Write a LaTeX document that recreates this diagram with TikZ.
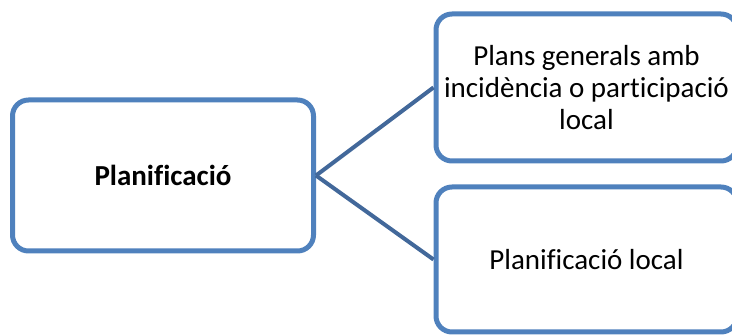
\documentclass[tikz,border=0pt]{standalone}
\usepackage{fontspec}
\setmainfont[Ligatures=CommonOff]{Carlito}
\usepackage{tikz}

\definecolor{boxblue}{HTML}{4F81BD}
\definecolor{linkblue}{HTML}{42689A}

\begin{document}
\begin{tikzpicture}%
    [x=1pt, y=-1pt,
    box/.style={rectangle, rounded corners=16pt, draw=boxblue, line width=5pt, fill=white,
      align=center, font=\fontsize{29}{32}\selectfont, inner sep=1pt},
    link/.style={draw=linkblue, line width=4pt}]

    \useasboundingbox (0,0) rectangle (732,336);
    \begin{scope}
    \clip (0,0) rectangle (732,336);

    \node [box, minimum width=301pt, minimum height=151pt] (plan) at (163, 175.5) {\textbf{Planificació}};
    \node [box, minimum width=301pt, minimum height=147pt] (general) at (586.5, 87.5)
      {Plans generals amb\\incidència o participació\\local};
    \node [box, minimum width=301pt, minimum height=145pt] (local) at (586.5, 259.5) {Planificació local};

    \draw [link] (plan.east) to (general.west);
    \draw [link] (plan.east) to (local.west);
    \end{scope}
  \end{tikzpicture}
\end{document}
